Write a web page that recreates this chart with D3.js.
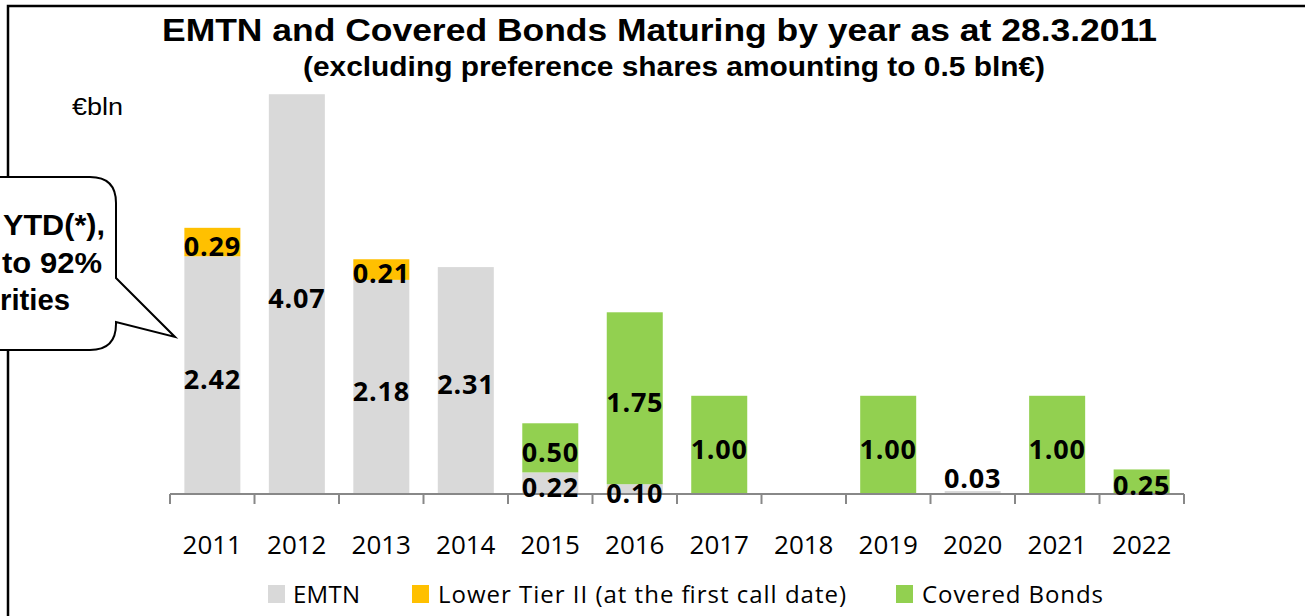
<!DOCTYPE html>
<html>
<head>
<meta charset="utf-8">
<script src="https://cdnjs.cloudflare.com/ajax/libs/d3/7.8.5/d3.min.js"></script>
<style>
	body { margin: 0; background: #fff; }
	svg { display: block; }
</style>
</head>
<body>
<div id="chart"></div>
<script>
// values (bln EUR)
var years = ["2011","2012","2013","2014","2015","2016","2017","2018","2019","2020","2021","2022"];
var emtn = [2.42, 4.07, 2.18, 2.31, 0.22, 0.10, 0, 0, 0, 0.03, 0, 0];
var lowerTier = [0.29, 0, 0.21, 0, 0, 0, 0, 0, 0, 0, 0, 0];
var covered = [0, 0, 0, 0, 0.50, 1.75, 1.00, 0, 1.00, 0, 1.00, 0.25];
var seriesNames = ["EMTN", "Lower Tier II (at the first call date)", "Covered Bonds"];
var seriesColors = ["#D9D9D9", "#FFC000", "#92D050"];
var calloutLines = ["YTD(*),", "to 92%", "rities"];

var W = 1305, H = 616;
var svg = d3.select("#chart").append("svg").attr("width", W).attr("height", H);

var x = d3.scaleBand().domain(years).range([170, 1184]).paddingInner(0.337).paddingOuter(0.17);
var band = d3.scaleBand().domain(years).range([170, 1184]);
var y = d3.scaleLinear().domain([0, 4.5]).range([494, 52]);

// frame (only top and left visible in the crop)
svg.append("path")
	.attr("d", "M8," + (H + 5) + "V6H" + (W + 5))
	.attr("fill", "none").attr("stroke", "#000").attr("stroke-width", 2.5);

// stacked bars
var table = years.map(function(yr, i){
	return {year: yr, emtn: emtn[i], lower: lowerTier[i], covered: covered[i]};
});
var stack = d3.stack().keys(["emtn", "lower", "covered"]);
var layers = stack(table);

var layer = svg.selectAll(".layer")
	.data(layers)
	.enter().append("g")
	.attr("class", "layer")
	.attr("fill", function(d, i){ return seriesColors[i]; });

layer.selectAll("rect")
	.data(function(d){ return d; })
	.enter().append("rect")
	.filter(function(d){ return d[1] - d[0] > 0; })
	.attr("x", function(d){ return x(d.data.year); })
	.attr("width", x.bandwidth())
	.attr("y", function(d){ return y(d[1]); })
	.attr("height", function(d){ return y(d[0]) - y(d[1]); });

// axis
var axis = svg.append("g");
axis.append("line")
	.attr("x1", band.range()[0]).attr("x2", band.range()[1])
	.attr("y1", y(0)).attr("y2", y(0))
	.attr("stroke", "#888").attr("stroke-width", 2);
axis.selectAll(".tick")
	.data(years.concat(["end"]))
	.enter().append("line")
	.attr("x1", function(d, i){ return band.range()[0] + i * band.bandwidth(); })
	.attr("x2", function(d, i){ return band.range()[0] + i * band.bandwidth(); })
	.attr("y1", y(0)).attr("y2", y(0) + 10)
	.attr("stroke", "#888").attr("stroke-width", 2);
axis.selectAll(".year")
	.data(years)
	.enter().append("text")
	.attr("x", function(d){ return band(d) + band.bandwidth() / 2; })
	.attr("y", 554)
	.attr("text-anchor", "middle")
	.style("font-family", "'Open Sans', sans-serif")
	.style("font-size", "26px")
	.text(function(d){ return d; });

// value labels, centred in each segment
layers.forEach(function(lay){
	lay.forEach(function(d){
		var v = d[1] - d[0];
		if (v <= 0) return;
		var h = y(d[0]) - y(d[1]);
		var cy = (y(d[0]) + y(d[1])) / 2 + 4;
		if (h < 6) cy = y(d[1]) - 13;
		svg.append("text")
			.attr("x", x(d.data.year) + x.bandwidth() / 2)
			.attr("y", cy)
			.attr("dy", "0.36em")
			.attr("text-anchor", "middle")
			.style("font-family", "'Open Sans', sans-serif")
			.style("font-weight", "bold")
			.style("font-size", "27px")
			.style("letter-spacing", "0.8px")
			.text(v.toFixed(2));
	});
});

// titles
svg.append("text")
	.attr("x", 162).attr("y", 41)
	.attr("textLength", 995).attr("lengthAdjust", "spacingAndGlyphs")
	.style("font-family", "'Liberation Sans', Arial, sans-serif")
	.style("font-weight", "bold").style("font-size", "32px")
	.text("EMTN and Covered Bonds Maturing by year as at 28.3.2011");
svg.append("text")
	.attr("x", 303).attr("y", 76)
	.attr("textLength", 742).attr("lengthAdjust", "spacingAndGlyphs")
	.style("font-family", "'Liberation Sans', Arial, sans-serif")
	.style("font-weight", "bold").style("font-size", "27px")
	.text("(excluding preference shares amounting to 0.5 bln€)");
svg.append("text")
	.attr("x", 72).attr("y", 115)
	.attr("textLength", 51).attr("lengthAdjust", "spacingAndGlyphs")
	.style("font-family", "'Liberation Sans', Arial, sans-serif")
	.style("font-size", "23px")
	.text("€bln");

// callout bubble, cut off at the left edge
var r = 26;
svg.append("path")
	.attr("d", "M-60,177H" + (116 - r) + "Q116,177 116," + (177 + r) +
		"V278L175,337L116,322V" + (350 - r) + "Q116,350 " + (116 - r) + ",350H-60Z")
	.attr("fill", "#fff").attr("stroke", "#000").attr("stroke-width", 2);
var calloutStarts = [3, 2, 0];
var calloutWidths = [102, 100, 70];
var calloutBase = [235, 273, 310];
svg.selectAll(".callout")
	.data(calloutLines)
	.enter().append("text")
	.attr("x", function(d, i){ return calloutStarts[i]; })
	.attr("y", function(d, i){ return calloutBase[i]; })
	.attr("textLength", function(d, i){ return calloutWidths[i]; })
	.attr("lengthAdjust", "spacingAndGlyphs")
	.style("font-family", "'Liberation Sans', Arial, sans-serif")
	.style("font-weight", "bold").style("font-size", "29px")
	.text(function(d){ return d; });

// legend
var legX = [268, 412, 896];
var legTextW = [67, 408, 181];
var leg = svg.selectAll(".legend")
	.data(seriesNames)
	.enter().append("g")
	.attr("transform", function(d, i){ return "translate(" + legX[i] + ",0)"; });
leg.append("rect")
	.attr("x", 0).attr("y", 585).attr("width", 17).attr("height", 18)
	.attr("fill", function(d, i){ return seriesColors[i]; });
leg.append("text")
	.attr("x", function(d, i){ return i == 0 ? 25 : 26; })
	.attr("y", 603)
	.attr("textLength", function(d, i){ return legTextW[i]; })
	.attr("lengthAdjust", "spacing")
	.style("font-family", "'Open Sans', sans-serif")
	.style("font-size", "24px")
	.text(function(d){ return d; });
</script>
</body>
</html>
